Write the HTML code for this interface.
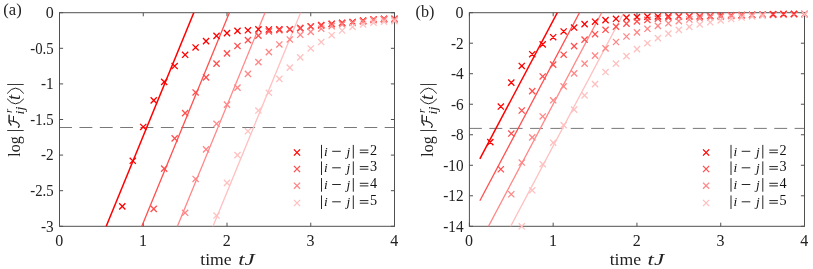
<!DOCTYPE html>
<html><head><meta charset="utf-8"><title>fig</title>
<style>html,body{margin:0;padding:0;background:#fff}svg{display:block;will-change:transform}text{font-family:"Liberation Serif",serif;fill:#222}.tk{font-size:16px}.lb{font-size:16px}.lg{font-size:13.3px}.it{font-style:italic}</style></head><body>
<svg width="813" height="269" viewBox="0 0 813 269">
<rect width="813" height="269" fill="#fff"/>
<clipPath id="ca"><rect x="59.5" y="12.7" width="335.0" height="213.60000000000002"/></clipPath>
<rect x="59.5" y="12.7" width="335.0" height="213.60000000000002" fill="none" stroke="#505050" stroke-width="1"/>
<path d="M59.50 226.3v-3.6M59.50 12.7v3.6M143.25 226.3v-3.6M143.25 12.7v3.6M227.00 226.3v-3.6M227.00 12.7v3.6M310.75 226.3v-3.6M310.75 12.7v3.6M394.50 226.3v-3.6M394.50 12.7v3.6M59.5 12.70h3.6M394.5 12.70h-3.6M59.5 48.30h3.6M394.5 48.30h-3.6M59.5 83.90h3.6M394.5 83.90h-3.6M59.5 119.50h3.6M394.5 119.50h-3.6M59.5 155.10h3.6M394.5 155.10h-3.6M59.5 190.70h3.6M394.5 190.70h-3.6M59.5 226.30h3.6M394.5 226.30h-3.6" stroke="#505050" stroke-width="1" fill="none"/>
<line x1="59.5" y1="127.5" x2="394.5" y2="127.5" stroke="#555" stroke-width="0.8" stroke-dasharray="12.9 7.45" stroke-dashoffset="0.4"/>
<line clip-path="url(#ca)" x1="69.97" y1="314.64" x2="210.55" y2="-28.14" stroke="#ff0000" stroke-width="1.5"/>
<line clip-path="url(#ca)" x1="69.97" y1="401.45" x2="246.15" y2="-28.14" stroke="#ff4f4f" stroke-width="1.3"/>
<line clip-path="url(#ca)" x1="69.97" y1="488.26" x2="281.75" y2="-28.14" stroke="#ff8787" stroke-width="1.3"/>
<line clip-path="url(#ca)" x1="69.97" y1="575.06" x2="317.35" y2="-28.14" stroke="#ffc0c0" stroke-width="1.3"/>
<path d="M119.21 203.26L125.41 209.46M119.21 209.46L125.41 203.26M129.68 157.70L135.88 163.90M129.68 163.90L135.88 157.70M140.15 123.88L146.35 130.08M140.15 130.08L146.35 123.88M150.62 97.25L156.82 103.45M150.62 103.45L156.82 97.25M161.09 78.81L167.29 85.01M161.09 85.01L167.29 78.81M171.56 62.93L177.76 69.13M171.56 69.13L177.76 62.93M182.03 51.68L188.22 57.88M182.03 57.88L188.22 51.68M192.49 44.35L198.69 50.55M192.49 50.55L198.69 44.35M202.96 38.08L209.16 44.28M202.96 44.28L209.16 38.08M213.43 32.81L219.63 39.01M213.43 39.01L219.63 32.81M223.90 30.03L230.10 36.23M223.90 36.23L230.10 30.03M234.37 27.83L240.57 34.03M234.37 34.03L240.57 27.83M244.84 27.19L251.04 33.39M244.84 33.39L251.04 27.19M255.31 26.19L261.51 32.39M255.31 32.39L261.51 26.19M265.77 26.40L271.98 32.60M265.77 32.60L271.98 26.40M276.24 26.33L282.44 32.53M276.24 32.53L282.44 26.33M286.71 26.12L292.91 32.32M286.71 32.32L292.91 26.12M297.18 25.05L303.38 31.25M297.18 31.25L303.38 25.05M307.65 23.34L313.85 29.54M307.65 29.54L313.85 23.34M318.12 22.06L324.32 28.26M318.12 28.26L324.32 22.06M328.59 20.71L334.79 26.91M328.59 26.91L334.79 20.71M339.06 19.71L345.26 25.91M339.06 25.91L345.26 19.71M349.52 18.86L355.73 25.06M349.52 25.06L355.73 18.86M359.99 17.57L366.19 23.77M359.99 23.77L366.19 17.57M370.46 16.36L376.66 22.56M370.46 22.56L376.66 16.36M380.93 15.79L387.13 21.99M380.93 21.99L387.13 15.79M391.40 15.79L397.60 21.99M391.40 21.99L397.60 15.79" stroke="#ff0000" stroke-width="1.3" fill="none"/>
<path d="M150.62 205.76L156.82 211.96M150.62 211.96L156.82 205.76M161.09 165.53L167.29 171.73M161.09 171.73L167.29 165.53M171.56 135.27L177.76 141.47M171.56 141.47L177.76 135.27M182.03 110.06L188.22 116.26M182.03 116.26L188.22 110.06M192.49 89.34L198.69 95.54M192.49 95.54L198.69 89.34M202.96 74.32L209.16 80.52M202.96 80.52L209.16 74.32M213.43 60.58L219.63 66.78M213.43 66.78L219.63 60.58M223.90 50.33L230.10 56.53M223.90 56.53L230.10 50.33M234.37 42.85L240.57 49.05M234.37 49.05L240.57 42.85M244.84 37.01L251.04 43.21M244.84 43.21L251.04 37.01M255.31 32.53L261.51 38.73M255.31 38.73L261.51 32.53M265.77 28.25L271.98 34.45M265.77 34.45L271.98 28.25M276.24 27.04L282.44 33.24M276.24 33.24L282.44 27.04M286.71 26.40L292.91 32.60M286.71 32.60L292.91 26.40M297.18 25.05L303.38 31.25M297.18 31.25L303.38 25.05M307.65 23.34L313.85 29.54M307.65 29.54L313.85 23.34M318.12 22.42L324.32 28.62M318.12 28.62L324.32 22.42M328.59 20.99L334.79 27.19M328.59 27.19L334.79 20.99M339.06 20.00L345.26 26.20M339.06 26.20L345.26 20.00M349.52 19.14L355.73 25.34M349.52 25.34L355.73 19.14M359.99 17.86L366.19 24.06M359.99 24.06L366.19 17.86M370.46 16.65L376.66 22.85M370.46 22.85L376.66 16.65M380.93 16.08L387.13 22.28M380.93 22.28L387.13 16.08M391.40 16.01L397.60 22.21M391.40 22.21L397.60 16.01" stroke="#ff4f4f" stroke-width="1.3" fill="none"/>
<path d="M182.03 209.67L188.22 215.87M182.03 215.87L188.22 209.67M192.49 175.85L198.69 182.05M192.49 182.05L198.69 175.85M202.96 146.30L209.16 152.50M202.96 152.50L209.16 146.30M213.43 120.67L219.63 126.87M213.43 126.87L219.63 120.67M223.90 101.52L230.10 107.72M223.90 107.72L230.10 101.52M234.37 84.57L240.57 90.77M234.37 90.77L240.57 84.57M244.84 70.83L251.04 77.03M244.84 77.03L251.04 70.83M255.31 59.08L261.51 65.28M255.31 65.28L261.51 59.08M265.77 48.97L271.98 55.17M265.77 55.17L271.98 48.97M276.24 41.36L282.44 47.56M276.24 47.56L282.44 41.36M286.71 36.37L292.91 42.57M286.71 42.57L292.91 36.37M297.18 31.67L303.38 37.87M297.18 37.87L303.38 31.67M307.65 28.82L313.85 35.02M307.65 35.02L313.85 28.82M318.12 25.62L324.32 31.82M318.12 31.82L324.32 25.62M328.59 23.13L334.79 29.33M328.59 29.33L334.79 23.13M339.06 21.35L345.26 27.55M339.06 27.55L345.26 21.35M349.52 19.92L355.73 26.12M349.52 26.12L355.73 19.92M359.99 18.50L366.19 24.70M359.99 24.70L366.19 18.50M370.46 17.08L376.66 23.28M370.46 23.28L376.66 17.08M380.93 16.51L387.13 22.71M380.93 22.71L387.13 16.51M391.40 16.36L397.60 22.56M391.40 22.56L397.60 16.36" stroke="#ff8787" stroke-width="1.3" fill="none"/>
<path d="M213.43 212.45L219.63 218.65M213.43 218.65L219.63 212.45M223.90 179.77L230.10 185.97M223.90 185.97L230.10 179.77M234.37 152.00L240.57 158.20M234.37 158.20L240.57 152.00M244.84 128.15L251.04 134.35M244.84 134.35L251.04 128.15M255.31 107.43L261.51 113.63M255.31 113.63L261.51 107.43M265.77 89.70L271.98 95.90M265.77 95.90L271.98 89.70M276.24 75.74L282.44 81.94M276.24 81.94L282.44 75.74M286.71 64.50L292.91 70.70M286.71 70.70L292.91 64.50M297.18 54.24L303.38 60.44M297.18 60.44L303.38 54.24M307.65 45.34L313.85 51.54M307.65 51.54L313.85 45.34M318.12 38.93L324.32 45.13M318.12 45.13L324.32 38.93M328.59 32.10L334.79 38.30M328.59 38.30L334.79 32.10M339.06 27.40L345.26 33.60M339.06 33.60L345.26 27.40M349.52 23.84L355.73 30.04M349.52 30.04L355.73 23.84M359.99 21.35L366.19 27.55M359.99 27.55L366.19 21.35M370.46 19.57L376.66 25.77M370.46 25.77L376.66 19.57M380.93 18.50L387.13 24.70M380.93 24.70L387.13 18.50M391.40 18.00L397.60 24.20M391.40 24.20L397.60 18.00" stroke="#ffc0c0" stroke-width="1.3" fill="none"/>
<text x="59.20" y="245.6" text-anchor="middle" class="tk">0</text>
<text x="142.95" y="245.6" text-anchor="middle" class="tk">1</text>
<text x="226.70" y="245.6" text-anchor="middle" class="tk">2</text>
<text x="310.45" y="245.6" text-anchor="middle" class="tk">3</text>
<text x="394.20" y="245.6" text-anchor="middle" class="tk">4</text>
<text x="53.70" y="18.00" text-anchor="end" class="tk">0</text>
<text x="53.70" y="53.60" text-anchor="end" class="tk" textLength="23.4" lengthAdjust="spacingAndGlyphs">-0.5</text>
<text x="53.70" y="89.20" text-anchor="end" class="tk" textLength="12.7" lengthAdjust="spacingAndGlyphs">-1</text>
<text x="53.70" y="124.80" text-anchor="end" class="tk" textLength="23.4" lengthAdjust="spacingAndGlyphs">-1.5</text>
<text x="53.70" y="160.40" text-anchor="end" class="tk" textLength="12.7" lengthAdjust="spacingAndGlyphs">-2</text>
<text x="53.70" y="196.00" text-anchor="end" class="tk" textLength="23.4" lengthAdjust="spacingAndGlyphs">-2.5</text>
<text x="53.70" y="231.60" text-anchor="end" class="tk" textLength="12.7" lengthAdjust="spacingAndGlyphs">-3</text>
<clipPath id="cb"><rect x="469.4" y="12.7" width="335.1" height="213.60000000000002"/></clipPath>
<rect x="469.4" y="12.7" width="335.1" height="213.60000000000002" fill="none" stroke="#505050" stroke-width="1"/>
<path d="M469.40 226.3v-3.6M469.40 12.7v3.6M553.17 226.3v-3.6M553.17 12.7v3.6M636.95 226.3v-3.6M636.95 12.7v3.6M720.73 226.3v-3.6M720.73 12.7v3.6M804.50 226.3v-3.6M804.50 12.7v3.6M469.4 12.70h3.6M804.5 12.70h-3.6M469.4 43.21h3.6M804.5 43.21h-3.6M469.4 73.73h3.6M804.5 73.73h-3.6M469.4 104.24h3.6M804.5 104.24h-3.6M469.4 134.76h3.6M804.5 134.76h-3.6M469.4 165.27h3.6M804.5 165.27h-3.6M469.4 195.79h3.6M804.5 195.79h-3.6M469.4 226.30h3.6M804.5 226.30h-3.6" stroke="#505050" stroke-width="1" fill="none"/>
<line x1="469.4" y1="128.4" x2="804.5" y2="128.4" stroke="#555" stroke-width="0.8" stroke-dasharray="12.9 7.45" stroke-dashoffset="0.4"/>
<line clip-path="url(#cb)" x1="479.87" y1="158.84" x2="565.67" y2="-3.11" stroke="#ff0000" stroke-width="1.5"/>
<line clip-path="url(#cb)" x1="479.87" y1="200.69" x2="587.85" y2="-3.11" stroke="#ff4f4f" stroke-width="1.3"/>
<line clip-path="url(#cb)" x1="479.87" y1="242.54" x2="610.02" y2="-3.11" stroke="#ff8787" stroke-width="1.3"/>
<line clip-path="url(#cb)" x1="479.87" y1="284.40" x2="632.19" y2="-3.11" stroke="#ffc0c0" stroke-width="1.3"/>
<path d="M487.24 138.98L493.44 145.18M487.24 145.18L493.44 138.98M497.72 103.43L503.92 109.63M497.72 109.63L503.92 103.43M508.19 79.48L514.39 85.68M508.19 85.68L514.39 79.48M518.66 62.85L524.86 69.05M518.66 69.05L524.86 62.85M529.13 51.10L535.33 57.30M529.13 57.30L535.33 51.10M539.60 41.33L545.80 47.53M539.60 47.53L545.80 41.33M550.07 34.09L556.27 40.29M550.07 40.29L556.27 34.09M560.55 28.38L566.75 34.58M560.55 34.58L566.75 28.38M571.02 24.43L577.22 30.63M571.02 30.63L577.22 24.43M581.49 21.03L587.69 27.23M581.49 27.23L587.69 21.03M591.96 18.62L598.16 24.82M591.96 24.82L598.16 18.62M602.43 17.05L608.63 23.25M602.43 23.25L608.63 17.05M612.91 15.70L619.11 21.90M612.91 21.90L619.11 15.70M623.38 14.57L629.58 20.77M623.38 20.77L629.58 14.57M633.85 13.98L640.05 20.18M633.85 20.18L640.05 13.98M644.32 13.51L650.52 19.71M644.32 19.71L650.52 13.51M654.79 13.37L660.99 19.57M654.79 19.57L660.99 13.37M665.27 13.15L671.47 19.35M665.27 19.35L671.47 13.15M675.74 13.20L681.94 19.40M675.74 19.40L681.94 13.20M686.21 13.19L692.41 19.39M686.21 19.39L692.41 13.19M696.68 13.14L702.88 19.34M696.68 19.34L702.88 13.14M707.15 12.91L713.35 19.11M707.15 19.11L713.35 12.91M717.62 12.54L723.83 18.74M717.62 18.74L723.83 12.54M728.10 12.27L734.30 18.47M728.10 18.47L734.30 12.27M738.57 11.98L744.77 18.18M738.57 18.18L744.77 11.98M749.04 11.77L755.24 17.97M749.04 17.97L755.24 11.77M759.51 11.58L765.71 17.78M759.51 17.78L765.71 11.58M769.98 11.31L776.18 17.51M769.98 17.51L776.18 11.31M780.46 11.05L786.66 17.25M780.46 17.25L786.66 11.05M790.93 10.93L797.13 17.13M790.93 17.13L797.13 10.93M801.40 10.93L807.60 17.13M801.40 17.13L807.60 10.93" stroke="#ff0000" stroke-width="1.3" fill="none"/>
<path d="M497.72 166.14L503.92 172.34M497.72 172.34L503.92 166.14M508.19 130.44L514.39 136.64M508.19 136.64L514.39 130.44M518.66 107.40L524.86 113.60M518.66 113.60L524.86 107.40M529.13 88.02L535.33 94.22M529.13 94.22L535.33 88.02M539.60 73.37L545.80 79.57M539.60 79.57L545.80 73.37M550.07 61.47L556.27 67.67M550.07 67.67L556.27 61.47M560.55 51.63L566.75 57.83M560.55 57.83L566.75 51.63M571.02 43.01L577.22 49.21M571.02 49.21L577.22 43.01M581.49 36.53L587.69 42.73M581.49 42.73L587.69 36.53M591.96 31.13L598.16 37.33M591.96 37.33L598.16 31.13M602.43 26.69L608.63 32.89M602.43 32.89L608.63 26.69M612.91 23.47L619.11 29.67M612.91 29.67L619.11 23.47M623.38 20.52L629.58 26.72M623.38 26.72L629.58 20.52M633.85 18.33L640.05 24.53M633.85 24.53L640.05 18.33M644.32 16.73L650.52 22.93M644.32 22.93L650.52 16.73M654.79 15.47L660.99 21.67M654.79 21.67L660.99 15.47M665.27 14.51L671.47 20.71M665.27 20.71L671.47 14.51M675.74 13.60L681.94 19.80M675.74 19.80L681.94 13.60M686.21 13.34L692.41 19.54M686.21 19.54L692.41 13.34M696.68 13.20L702.88 19.40M696.68 19.40L702.88 13.20M707.15 12.91L713.35 19.11M707.15 19.11L713.35 12.91M717.62 12.54L723.83 18.74M717.62 18.74L723.83 12.54M728.10 12.35L734.30 18.55M728.10 18.55L734.30 12.35M738.57 12.04L744.77 18.24M738.57 18.24L744.77 12.04M749.04 11.83L755.24 18.03M749.04 18.03L755.24 11.83M759.51 11.64L765.71 17.84M759.51 17.84L765.71 11.64M769.98 11.37L776.18 17.57M769.98 17.57L776.18 11.37M780.46 11.11L786.66 17.31M780.46 17.31L786.66 11.11M790.93 10.99L797.13 17.19M790.93 17.19L797.13 10.99M801.40 10.97L807.60 17.17M801.40 17.17L807.60 10.97" stroke="#ff4f4f" stroke-width="1.3" fill="none"/>
<path d="M508.19 191.16L514.39 197.36M508.19 197.36L514.39 191.16M518.66 159.43L524.86 165.63M518.66 165.63L524.86 159.43M529.13 134.25L535.33 140.45M529.13 140.45L535.33 134.25M539.60 113.35L545.80 119.55M539.60 119.55L545.80 113.35M550.07 97.18L556.27 103.38M550.07 103.38L556.27 97.18M560.55 83.29L566.75 89.49M560.55 89.49L566.75 83.29M571.02 70.32L577.22 76.52M571.02 76.52L577.22 70.32M581.49 60.56L587.69 66.76M581.49 66.76L587.69 60.56M591.96 52.47L598.16 58.67M591.96 58.67L598.16 52.47M602.43 45.23L608.63 51.43M602.43 51.43L608.63 45.23M612.91 38.89L619.11 45.09M612.91 45.09L619.11 38.89M623.38 33.40L629.58 39.60M623.38 39.60L629.58 33.40M633.85 29.30L640.05 35.50M633.85 35.50L640.05 29.30M644.32 25.67L650.52 31.87M644.32 31.87L650.52 25.67M654.79 22.72L660.99 28.92M654.79 28.92L660.99 22.72M665.27 20.20L671.47 26.40M665.27 26.40L671.47 20.20M675.74 18.04L681.94 24.24M675.74 24.24L681.94 18.04M686.21 16.40L692.41 22.60M686.21 22.60L692.41 16.40M696.68 15.34L702.88 21.54M696.68 21.54L702.88 15.34M707.15 14.33L713.35 20.53M707.15 20.53L713.35 14.33M717.62 13.72L723.83 19.92M717.62 19.92L723.83 13.72M728.10 13.03L734.30 19.23M728.10 19.23L734.30 13.03M738.57 12.50L744.77 18.70M738.57 18.70L744.77 12.50M749.04 12.12L755.24 18.32M749.04 18.32L755.24 12.12M759.51 11.81L765.71 18.01M759.51 18.01L765.71 11.81M769.98 11.51L776.18 17.71M769.98 17.71L776.18 11.51M780.46 11.20L786.66 17.40M780.46 17.40L786.66 11.20M790.93 11.08L797.13 17.28M790.93 17.28L797.13 11.08M801.40 11.05L807.60 17.25M801.40 17.25L807.60 11.05" stroke="#ff8787" stroke-width="1.3" fill="none"/>
<path d="M518.66 223.20L524.86 229.40M518.66 229.40L524.86 223.20M529.13 187.19L535.33 193.39M529.13 193.39L535.33 187.19M539.60 161.10L545.80 167.30M539.60 167.30L545.80 161.10M550.07 139.59L556.27 145.79M550.07 145.79L556.27 139.59M560.55 122.05L566.75 128.25M560.55 128.25L566.75 122.05M571.02 106.48L577.22 112.68M571.02 112.68L577.22 106.48M581.49 92.29L587.69 98.49M581.49 98.49L587.69 92.29M591.96 81.00L598.16 87.20M591.96 87.20L598.16 81.00M602.43 68.95L608.63 75.15M602.43 75.15L608.63 68.95M612.91 60.56L619.11 66.76M612.91 66.76L619.11 60.56M623.38 53.07L629.58 59.27M623.38 59.27L629.58 53.07M633.85 46.06L640.05 52.26M633.85 52.26L640.05 46.06M644.32 40.11L650.52 46.31M644.32 46.31L650.52 40.11M654.79 35.00L660.99 41.20M654.79 41.20L660.99 35.00M665.27 30.56L671.47 36.76M665.27 36.76L671.47 30.56M675.74 26.76L681.94 32.96M675.74 32.96L681.94 26.76M686.21 23.77L692.41 29.97M686.21 29.97L692.41 23.77M696.68 21.36L702.88 27.56M696.68 27.56L702.88 21.36M707.15 19.17L713.35 25.37M707.15 25.37L713.35 19.17M717.62 17.26L723.83 23.46M717.62 23.46L723.83 17.26M728.10 15.89L734.30 22.09M728.10 22.09L734.30 15.89M738.57 14.42L744.77 20.62M738.57 20.62L744.77 14.42M749.04 13.41L755.24 19.61M749.04 19.61L755.24 13.41M759.51 12.65L765.71 18.85M759.51 18.85L765.71 12.65M769.98 12.12L776.18 18.32M769.98 18.32L776.18 12.12M780.46 11.74L786.66 17.94M780.46 17.94L786.66 11.74M790.93 11.51L797.13 17.71M790.93 17.71L797.13 11.51M801.40 11.40L807.60 17.60M801.40 17.60L807.60 11.40" stroke="#ffc0c0" stroke-width="1.3" fill="none"/>
<path d="M769.98 11.31L776.18 17.51M769.98 17.51L776.18 11.31M780.46 11.05L786.66 17.25M780.46 17.25L786.66 11.05M790.93 10.93L797.13 17.13M790.93 17.13L797.13 10.93" stroke="#ff2a2a" stroke-width="1.3" fill="none"/>
<text x="469.10" y="245.6" text-anchor="middle" class="tk">0</text>
<text x="552.88" y="245.6" text-anchor="middle" class="tk">1</text>
<text x="636.65" y="245.6" text-anchor="middle" class="tk">2</text>
<text x="720.43" y="245.6" text-anchor="middle" class="tk">3</text>
<text x="804.20" y="245.6" text-anchor="middle" class="tk">4</text>
<text x="463.60" y="18.00" text-anchor="end" class="tk">0</text>
<text x="463.60" y="48.51" text-anchor="end" class="tk" textLength="12.7" lengthAdjust="spacingAndGlyphs">-2</text>
<text x="463.60" y="79.03" text-anchor="end" class="tk" textLength="12.7" lengthAdjust="spacingAndGlyphs">-4</text>
<text x="463.60" y="109.54" text-anchor="end" class="tk" textLength="12.7" lengthAdjust="spacingAndGlyphs">-6</text>
<text x="463.60" y="140.06" text-anchor="end" class="tk" textLength="12.7" lengthAdjust="spacingAndGlyphs">-8</text>
<text x="463.60" y="170.57" text-anchor="end" class="tk" textLength="20.3" lengthAdjust="spacingAndGlyphs">-10</text>
<text x="463.60" y="201.09" text-anchor="end" class="tk" textLength="20.3" lengthAdjust="spacingAndGlyphs">-12</text>
<text x="463.60" y="231.60" text-anchor="end" class="tk" textLength="20.3" lengthAdjust="spacingAndGlyphs">-14</text>
<text x="3.3" y="14.8" class="lb" textLength="18.4" lengthAdjust="spacingAndGlyphs">(a)</text>
<text x="415.6" y="17.0" class="lb" textLength="18.8" lengthAdjust="spacingAndGlyphs">(b)</text>
<text x="200.3" y="265.2" class="lb" textLength="31.4" lengthAdjust="spacingAndGlyphs">time</text>
<text x="238.2" y="265.2" class="lb it" textLength="16.6" lengthAdjust="spacingAndGlyphs">tJ</text>
<text x="609.7" y="265.2" class="lb" textLength="31.4" lengthAdjust="spacingAndGlyphs">time</text>
<text x="647.6" y="265.2" class="lb it" textLength="16.6" lengthAdjust="spacingAndGlyphs">tJ</text>
<g transform="translate(19.5,156.7) rotate(-90)">
<text x="0" y="0" class="lb" textLength="20.4" lengthAdjust="spacingAndGlyphs">log</text>
<path d="M26.2 4.2V-12.3M72.2 4.2V-12.3" stroke="#222" stroke-width="0.9" fill="none"/>
<g fill="none" stroke="#222" stroke-linecap="round" stroke-linejoin="round"><path d="M31.7 -8.5C32.9 -8.8 33.7 -9.6 34.5 -10.4L41.4 -10.4" stroke-width="1.4"/><path d="M35.9 -10.3C35.7 -8.5 35.5 -7.2 35.3 -6.0C34.9 -3.8 34.3 -2.3 33.3 -1.3C32.6 -0.6 31.9 -0.2 31.2 -0.2C30.4 -0.2 29.8 -0.5 29.5 -1.0" stroke-width="1.1"/><circle cx="29.6" cy="-1.1" r="0.45" fill="#222" stroke-width="0.4"/><path d="M35.4 -6.0L40.3 -6.0" stroke-width="1.0"/></g>
<text x="43.7" y="-7.2" class="it" style="font-size:11px">r</text>
<text x="42.3" y="4.9" class="it" style="font-size:11.5px" textLength="7.9" lengthAdjust="spacingAndGlyphs">ij</text>
<path d="M57.6 -12.1Q47.9 -4 57.6 4.1M63.5 -12.1Q73.9 -4 63.5 4.1" stroke="#222" stroke-width="1.0" fill="none" stroke-linecap="round"/>
<text x="56.6" y="0" class="it" style="font-size:18.5px">t</text>
</g>
<g transform="translate(432.5,156.7) rotate(-90)">
<text x="0" y="0" class="lb" textLength="20.4" lengthAdjust="spacingAndGlyphs">log</text>
<path d="M26.2 4.2V-12.3M72.2 4.2V-12.3" stroke="#222" stroke-width="0.9" fill="none"/>
<g fill="none" stroke="#222" stroke-linecap="round" stroke-linejoin="round"><path d="M31.7 -8.5C32.9 -8.8 33.7 -9.6 34.5 -10.4L41.4 -10.4" stroke-width="1.4"/><path d="M35.9 -10.3C35.7 -8.5 35.5 -7.2 35.3 -6.0C34.9 -3.8 34.3 -2.3 33.3 -1.3C32.6 -0.6 31.9 -0.2 31.2 -0.2C30.4 -0.2 29.8 -0.5 29.5 -1.0" stroke-width="1.1"/><circle cx="29.6" cy="-1.1" r="0.45" fill="#222" stroke-width="0.4"/><path d="M35.4 -6.0L40.3 -6.0" stroke-width="1.0"/></g>
<text x="43.7" y="-7.2" class="it" style="font-size:11px">r</text>
<text x="42.3" y="4.9" class="it" style="font-size:11.5px" textLength="7.9" lengthAdjust="spacingAndGlyphs">ij</text>
<path d="M57.6 -12.1Q47.9 -4 57.6 4.1M63.5 -12.1Q73.9 -4 63.5 4.1" stroke="#222" stroke-width="1.0" fill="none" stroke-linecap="round"/>
<text x="56.6" y="0" class="it" style="font-size:18.5px">t</text>
</g>
<path d="M293.9 149.4L300.1 155.6M293.9 155.6L300.1 149.4" stroke="#ff0000" stroke-width="1.3" fill="none"/>
<path d="M321.5 144.9v13.6M353.3 144.9v13.6" stroke="#1a1a1a" stroke-width="0.95" fill="none"/>
<text x="324.0" y="155.5" class="lg it" style="fill:#111">i</text>
<path d="M332.2 151.3h8.6M359.8 150.1h8.6M359.8 152.7h8.6" stroke="#1a1a1a" stroke-width="0.95" fill="none"/>
<text x="346.6" y="155.5" class="lg it" style="fill:#111">j</text>
<text x="370.0" y="154.8" class="lg" style="font-size:14.2px;fill:#111">2</text>
<path d="M293.9 165.9L300.1 172.1M293.9 172.1L300.1 165.9" stroke="#ff4f4f" stroke-width="1.3" fill="none"/>
<path d="M321.5 161.4v13.6M353.3 161.4v13.6" stroke="#1a1a1a" stroke-width="0.95" fill="none"/>
<text x="324.0" y="172.0" class="lg it" style="fill:#111">i</text>
<path d="M332.2 167.8h8.6M359.8 166.6h8.6M359.8 169.2h8.6" stroke="#1a1a1a" stroke-width="0.95" fill="none"/>
<text x="346.6" y="172.0" class="lg it" style="fill:#111">j</text>
<text x="370.0" y="171.3" class="lg" style="font-size:14.2px;fill:#111">3</text>
<path d="M293.9 182.6L300.1 188.79999999999998M293.9 188.79999999999998L300.1 182.6" stroke="#ff8787" stroke-width="1.3" fill="none"/>
<path d="M321.5 178.1v13.6M353.3 178.1v13.6" stroke="#1a1a1a" stroke-width="0.95" fill="none"/>
<text x="324.0" y="188.7" class="lg it" style="fill:#111">i</text>
<path d="M332.2 184.5h8.6M359.8 183.3h8.6M359.8 185.9h8.6" stroke="#1a1a1a" stroke-width="0.95" fill="none"/>
<text x="346.6" y="188.7" class="lg it" style="fill:#111">j</text>
<text x="370.0" y="188.0" class="lg" style="font-size:14.2px;fill:#111">4</text>
<path d="M293.9 199.9L300.1 206.1M293.9 206.1L300.1 199.9" stroke="#ffc0c0" stroke-width="1.3" fill="none"/>
<path d="M321.5 195.4v13.6M353.3 195.4v13.6" stroke="#1a1a1a" stroke-width="0.95" fill="none"/>
<text x="324.0" y="206.0" class="lg it" style="fill:#111">i</text>
<path d="M332.2 201.8h8.6M359.8 200.6h8.6M359.8 203.2h8.6" stroke="#1a1a1a" stroke-width="0.95" fill="none"/>
<text x="346.6" y="206.0" class="lg it" style="fill:#111">j</text>
<text x="370.0" y="205.3" class="lg" style="font-size:14.2px;fill:#111">5</text>
<path d="M703.0 149.4L709.2 155.6M703.0 155.6L709.2 149.4" stroke="#ff0000" stroke-width="1.3" fill="none"/>
<path d="M731.0 144.9v13.6M762.8 144.9v13.6" stroke="#1a1a1a" stroke-width="0.95" fill="none"/>
<text x="733.5" y="155.5" class="lg it" style="fill:#111">i</text>
<path d="M741.7 151.3h8.6M769.3 150.1h8.6M769.3 152.7h8.6" stroke="#1a1a1a" stroke-width="0.95" fill="none"/>
<text x="756.1" y="155.5" class="lg it" style="fill:#111">j</text>
<text x="779.5" y="154.8" class="lg" style="font-size:14.2px;fill:#111">2</text>
<path d="M703.0 165.9L709.2 172.1M703.0 172.1L709.2 165.9" stroke="#ff4f4f" stroke-width="1.3" fill="none"/>
<path d="M731.0 161.4v13.6M762.8 161.4v13.6" stroke="#1a1a1a" stroke-width="0.95" fill="none"/>
<text x="733.5" y="172.0" class="lg it" style="fill:#111">i</text>
<path d="M741.7 167.8h8.6M769.3 166.6h8.6M769.3 169.2h8.6" stroke="#1a1a1a" stroke-width="0.95" fill="none"/>
<text x="756.1" y="172.0" class="lg it" style="fill:#111">j</text>
<text x="779.5" y="171.3" class="lg" style="font-size:14.2px;fill:#111">3</text>
<path d="M703.0 182.6L709.2 188.79999999999998M703.0 188.79999999999998L709.2 182.6" stroke="#ff8787" stroke-width="1.3" fill="none"/>
<path d="M731.0 178.1v13.6M762.8 178.1v13.6" stroke="#1a1a1a" stroke-width="0.95" fill="none"/>
<text x="733.5" y="188.7" class="lg it" style="fill:#111">i</text>
<path d="M741.7 184.5h8.6M769.3 183.3h8.6M769.3 185.9h8.6" stroke="#1a1a1a" stroke-width="0.95" fill="none"/>
<text x="756.1" y="188.7" class="lg it" style="fill:#111">j</text>
<text x="779.5" y="188.0" class="lg" style="font-size:14.2px;fill:#111">4</text>
<path d="M703.0 199.9L709.2 206.1M703.0 206.1L709.2 199.9" stroke="#ffc0c0" stroke-width="1.3" fill="none"/>
<path d="M731.0 195.4v13.6M762.8 195.4v13.6" stroke="#1a1a1a" stroke-width="0.95" fill="none"/>
<text x="733.5" y="206.0" class="lg it" style="fill:#111">i</text>
<path d="M741.7 201.8h8.6M769.3 200.6h8.6M769.3 203.2h8.6" stroke="#1a1a1a" stroke-width="0.95" fill="none"/>
<text x="756.1" y="206.0" class="lg it" style="fill:#111">j</text>
<text x="779.5" y="205.3" class="lg" style="font-size:14.2px;fill:#111">5</text>
</svg></body></html>
